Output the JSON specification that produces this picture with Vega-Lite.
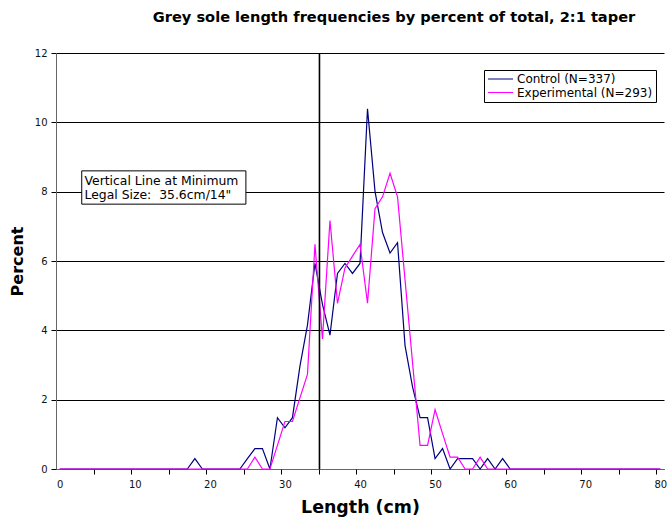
{
  "$schema": "https://vega.github.io/schema/vega-lite/v6.json",
  "width": 608,
  "height": 416,
  "autosize": "none",
  "padding": {"left": 56, "top": 53, "right": 3, "bottom": 54},
  "background": "white",
  "config": {"view": {"stroke": null}, "font": "DejaVu Sans"},
  "title": {
    "text": "Grey sole length frequencies by percent of total, 2:1 taper",
    "font": "DejaVu Sans", "fontSize": 14.6, "fontWeight": "bold", "color": "#000",
    "anchor": "middle", "frame": "group", "dx": 34, "offset": 23
  },
  "data": {"values": [
    {"len":0,"control":0,"experimental":0},{"len":1,"control":0,"experimental":0},{"len":2,"control":0,"experimental":0},
    {"len":3,"control":0,"experimental":0},{"len":4,"control":0,"experimental":0},{"len":5,"control":0,"experimental":0},
    {"len":6,"control":0,"experimental":0},{"len":7,"control":0,"experimental":0},{"len":8,"control":0,"experimental":0},
    {"len":9,"control":0,"experimental":0},{"len":10,"control":0,"experimental":0},{"len":11,"control":0,"experimental":0},
    {"len":12,"control":0,"experimental":0},{"len":13,"control":0,"experimental":0},{"len":14,"control":0,"experimental":0},
    {"len":15,"control":0,"experimental":0},{"len":16,"control":0,"experimental":0},{"len":17,"control":0,"experimental":0},
    {"len":18,"control":0.30,"experimental":0},{"len":19,"control":0,"experimental":0},{"len":20,"control":0,"experimental":0},
    {"len":21,"control":0,"experimental":0},{"len":22,"control":0,"experimental":0},{"len":23,"control":0,"experimental":0},
    {"len":24,"control":0,"experimental":0},{"len":25,"control":0.30,"experimental":0},{"len":26,"control":0.59,"experimental":0.34},
    {"len":27,"control":0.59,"experimental":0},{"len":28,"control":0,"experimental":0},{"len":29,"control":1.48,"experimental":0.68},
    {"len":30,"control":1.19,"experimental":1.37},{"len":31,"control":1.48,"experimental":1.37},{"len":32,"control":2.97,"experimental":2.05},
    {"len":33,"control":4.15,"experimental":2.73},{"len":34,"control":5.93,"experimental":6.48},{"len":35,"control":4.75,"experimental":3.75},
    {"len":36,"control":3.86,"experimental":7.17},{"len":37,"control":5.64,"experimental":4.78},{"len":38,"control":5.93,"experimental":5.80},
    {"len":39,"control":5.64,"experimental":6.14},{"len":40,"control":5.93,"experimental":6.48},{"len":41,"control":10.39,"experimental":4.78},
    {"len":42,"control":8.01,"experimental":7.51},{"len":43,"control":6.82,"experimental":7.85},{"len":44,"control":6.23,"experimental":8.53},
    {"len":45,"control":6.53,"experimental":7.85},{"len":46,"control":3.56,"experimental":5.46},{"len":47,"control":2.37,"experimental":3.07},
    {"len":48,"control":1.48,"experimental":0.68},{"len":49,"control":1.48,"experimental":0.68},{"len":50,"control":0.30,"experimental":1.71},
    {"len":51,"control":0.59,"experimental":1.02},{"len":52,"control":0,"experimental":0.34},{"len":53,"control":0.30,"experimental":0.34},
    {"len":54,"control":0.30,"experimental":0},{"len":55,"control":0.30,"experimental":0},{"len":56,"control":0,"experimental":0.34},
    {"len":57,"control":0.30,"experimental":0},{"len":58,"control":0,"experimental":0},{"len":59,"control":0.30,"experimental":0},
    {"len":60,"control":0,"experimental":0},{"len":61,"control":0,"experimental":0},{"len":62,"control":0,"experimental":0},
    {"len":63,"control":0,"experimental":0},{"len":64,"control":0,"experimental":0},{"len":65,"control":0,"experimental":0},
    {"len":66,"control":0,"experimental":0},{"len":67,"control":0,"experimental":0},{"len":68,"control":0,"experimental":0},
    {"len":69,"control":0,"experimental":0},{"len":70,"control":0,"experimental":0},{"len":71,"control":0,"experimental":0},
    {"len":72,"control":0,"experimental":0},{"len":73,"control":0,"experimental":0},{"len":74,"control":0,"experimental":0},
    {"len":75,"control":0,"experimental":0},{"len":76,"control":0,"experimental":0},{"len":77,"control":0,"experimental":0},
    {"len":78,"control":0,"experimental":0},{"len":79,"control":0,"experimental":0},{"len":80,"control":0,"experimental":0}
  ]},
  "layer": [
    {
      "transform": [{"fold": ["control", "experimental"], "as": ["series", "percent"]}],
      "mark": {"type": "line", "strokeWidth": 1.2},
      "encoding": {
        "x": {
          "field": "len", "type": "quantitative",
          "scale": {"domain": [-0.5, 80.5], "nice": false, "zero": false},
          "axis": {
            "orient": "bottom",
            "values": [0, 10, 20, 30, 40, 50, 60, 70, 80],
            "ticks": false, "grid": false,
            "domainColor": "#666", "domainWidth": 1,
            "labelFont": "DejaVu Sans", "labelFontSize": 10, "labelColor": "#111", "labelPadding": 10,
            "title": "Length (cm)", "titleFont": "DejaVu Sans", "titleFontSize": 17.4, "titleFontWeight": "bold",
            "titleColor": "#000", "titlePadding": 9
          }
        },
        "y": {
          "field": "percent", "type": "quantitative",
          "scale": {"domain": [0, 12], "nice": false},
          "axis": {
            "values": [0, 2, 4, 6, 8, 10, 12],
            "grid": true, "gridColor": "#000", "gridWidth": 1, "gridOpacity": 1,
            "domainColor": "#666", "domainWidth": 1,
            "ticks": true, "tickSize": 5, "tickColor": "#000",
            "labelFont": "DejaVu Sans", "labelFontSize": 10, "labelColor": "#111", "labelPadding": 4,
            "title": "Percent", "titleFont": "DejaVu Sans", "titleFontSize": 16, "titleFontWeight": "bold",
            "titleColor": "#000", "titlePadding": 9
          }
        },
        "color": {
          "field": "series", "type": "nominal",
          "scale": {"domain": ["control", "experimental"], "range": ["#000080", "#FF00FF"]},
          "legend": {
            "title": null, "orient": "none", "legendX": 428, "legendY": 17,
            "labelExpr": "datum.label == 'control' ? 'Control (N=337)' : 'Experimental (N=293)'",
            "symbolType": "stroke", "symbolSize": 625, "symbolStrokeWidth": 1.2,
            "clipHeight": 12,
            "labelFont": "DejaVu Sans", "labelFontSize": 12, "labelColor": "#000", "labelOffset": 3,
            "strokeColor": "#000", "fillColor": "#fff", "padding": 3, "rowPadding": 1.5
          }
        }
      }
    },
    {
      "data": {"values": [{}]},
      "mark": {"type": "rule", "color": "#000", "strokeWidth": 1.6},
      "encoding": {
        "x": {
          "datum": 34.6, "type": "quantitative",
          "axis": {
            "orient": "bottom",
            "values": [4.5, 9.5, 14.5, 19.5, 24.5, 29.5, 34.5, 39.5, 44.5, 49.5, 54.5, 59.5, 64.5, 69.5, 74.5, 79.5],
            "labels": false, "ticks": true, "tickSize": 5, "tickColor": "#000",
            "domain": false, "grid": false, "title": null
          }
        }
      }
    },
    {
      "data": {"values": [{}]},
      "mark": {"type": "rect", "fill": "#fff", "stroke": "#000", "strokeWidth": 1},
      "encoding": {
        "x": {"datum": 2.93, "type": "quantitative", "axis": null},
        "x2": {"datum": 24.8},
        "y": {"datum": 8.6, "type": "quantitative"},
        "y2": {"datum": 7.64}
      }
    },
    {
      "data": {"values": [{}]},
      "mark": {"type": "text", "align": "left", "baseline": "middle", "font": "DejaVu Sans", "fontSize": 12.4, "color": "#000", "lineHeight": 14.5},
      "encoding": {
        "x": {"datum": 3.3, "type": "quantitative", "axis": null},
        "y": {"datum": 8.31, "type": "quantitative"},
        "text": {"value": ["Vertical Line at Minimum", "Legal Size:\u00a0 35.6cm/14\""]}
      }
    }
  ],
  "resolve": {"axis": {"x": "independent"}}
}
